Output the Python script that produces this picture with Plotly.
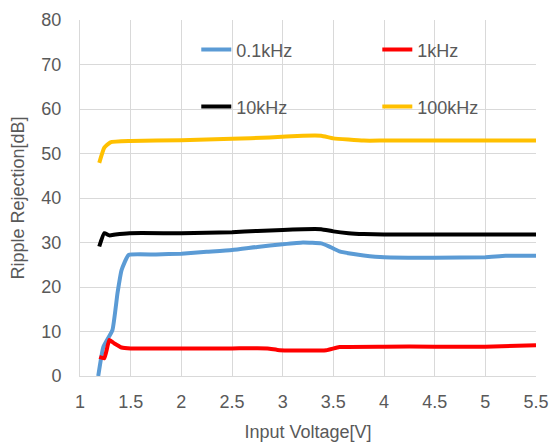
import plotly.graph_objects as go

# Input voltage sweep [V] and ripple rejection [dB] per ripple frequency
v_01k = [1.18, 1.23, 1.32, 1.37, 1.41, 1.48, 1.75, 2.0, 2.25, 2.5, 2.75, 3.0, 3.2, 3.38, 3.45,
         3.56, 3.7, 3.8, 4.0, 4.5, 5.0, 5.2, 5.5]
rr_01k = [0.0, 6.5, 10.3, 18.6, 23.8, 27.2, 27.3, 27.5, 27.9, 28.3, 29.0, 29.6, 30.0, 29.8, 29.2,
          28.0, 27.4, 27.1, 26.7, 26.6, 26.7, 27.0, 27.0]

v_1k = [1.19, 1.24, 1.29, 1.34, 1.41, 1.5, 2.0, 2.5, 2.85, 2.97, 3.43, 3.56, 4.0, 4.5, 5.0, 5.5]
rr_1k = [4.3, 4.0, 8.1, 7.3, 6.4, 6.2, 6.2, 6.2, 6.2, 5.8, 5.8, 6.5, 6.6, 6.6, 6.6, 6.9]

v_10k = [1.19, 1.24, 1.29, 1.35, 1.49, 2.0, 2.5, 2.75, 3.0, 3.2, 3.38, 3.5, 3.65, 3.8, 4.0, 4.5,
         5.0, 5.5]
rr_10k = [29.1, 32.1, 31.6, 31.8, 32.1, 32.1, 32.3, 32.6, 32.8, 33.0, 33.0, 32.5, 32.1, 31.9, 31.8,
          31.8, 31.8, 31.8]

v_100k = [1.19, 1.24, 1.3, 1.5, 2.0, 2.5, 2.87, 3.2, 3.38, 3.5, 3.8, 4.0, 4.5, 5.0, 5.5]
rr_100k = [47.9, 51.3, 52.5, 52.8, 53.0, 53.3, 53.6, 54.0, 54.0, 53.4, 52.9, 52.9, 52.9, 52.9, 52.9]

x_ticks = [1, 1.5, 2, 2.5, 3, 3.5, 4, 4.5, 5, 5.5]
x_tick_text = ["1", "1.5", "2", "2.5", "3", "3.5", "4", "4.5", "5", "5.5"]
y_ticks = [0, 10, 20, 30, 40, 50, 60, 70, 80]

FONT = "Liberation Sans, Arial, sans-serif"
GREY = "#595959"
GRID = "#D9D9D9"
FS = 18

# name, x, y, colour, legend id, legend anchor (paper x, paper y)
series = [
    ("0.1kHz", v_01k, rr_01k, "#5B9BD5", "legend", (0.255, 0.916)),
    ("1kHz", v_1k, rr_1k, "#FF0000", "legend2", (0.652, 0.916)),
    ("10kHz", v_10k, rr_10k, "#000000", "legend3", (0.255, 0.756)),
    ("100kHz", v_100k, rr_100k, "#FFC000", "legend4", (0.652, 0.756)),
]

fig = go.Figure()
legends = {}
for name, xs, ys, color, leg, (lx, ly) in series:
    fig.add_trace(go.Scatter(
        x=xs, y=ys, name=name, mode="lines", showlegend=True,
        line=dict(color=color, width=4, shape="spline", smoothing=0.4),
        legend=leg,
    ))
    legends[leg] = dict(
        x=lx, y=ly, xanchor="left", yanchor="middle", orientation="h",
        bgcolor="rgba(0,0,0,0)", borderwidth=0, visible=True,
        font=dict(family=FONT, size=FS, color=GREY),
    )

fig.update_layout(
    width=555, height=448,
    margin=dict(l=80, r=19, t=20, b=72),
    paper_bgcolor="white", plot_bgcolor="white",
    showlegend=True,
    font=dict(family=FONT, size=FS, color=GREY),
    xaxis=dict(
        range=[1, 5.5], tickvals=x_ticks, ticktext=x_tick_text,
        showgrid=True, gridcolor=GRID, gridwidth=1,
        showline=True, linecolor=GRID, linewidth=1,
        zeroline=False, ticks="", ticklabelstandoff=9, automargin=False,
        tickfont=dict(family=FONT, size=FS, color=GREY),
        title=dict(text="Input Voltage[V]", standoff=14,
                   font=dict(family=FONT, size=FS, color=GREY)),
    ),
    yaxis=dict(
        range=[0, 80], tickvals=y_ticks,
        showgrid=True, gridcolor=GRID, gridwidth=1,
        showline=True, linecolor=GRID, linewidth=1,
        zeroline=False, ticks="", ticklabelstandoff=14, automargin=False,
        tickfont=dict(family=FONT, size=FS, color=GREY),
        title=dict(text="Ripple Rejection[dB]", standoff=12,
                   font=dict(family=FONT, size=FS, color=GREY)),
    ),
    **legends,
)

fig.write_html("out.html")
